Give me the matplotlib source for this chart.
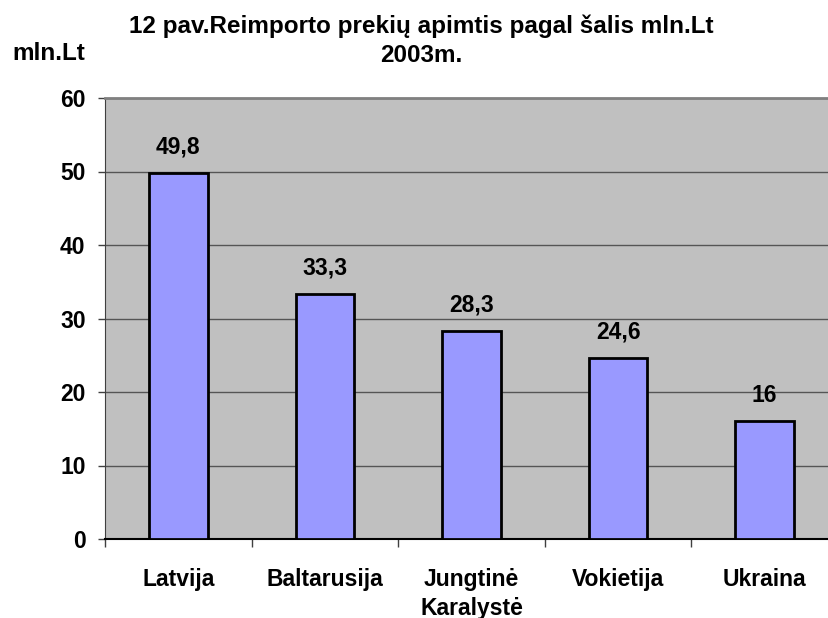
import matplotlib.pyplot as plt
import numpy as np
from matplotlib.ticker import FixedLocator

plt.rcParams["font.family"] = ["Liberation Sans", "DejaVu Sans"]
plt.rcParams["font.weight"] = "bold"

šalys = ["Latvija", "Baltarusija", "Jungtinė\nKaralystė", "Vokietija", "Ukraina"]
reikšmės = [49.8, 33.3, 28.3, 24.6, 16]
etiketės = ["49,8", "33,3", "28,3", "24,6", "16"]
y_žymės = [0, 10, 20, 30, 40, 50, 60]

W, H = 829, 618
FS = 16.5
fig = plt.figure(figsize=(W / 100, H / 100), dpi=100)
ax = fig.add_axes([105 / W, (H - 539) / H, 733 / W, 441 / H])
ax.set_facecolor("#C0C0C0")

x = np.arange(len(šalys))
ax.bar(x, reikšmės, width=0.4, color="#9999FF", edgecolor="black", linewidth=2, zorder=3)
for xi, v, t in zip(x, reikšmės, etiketės):
    ax.annotate(t, (xi, v), xytext=(0, 19), textcoords="offset points",
                ha="center", va="center", fontsize=FS, fontweight="bold", zorder=4)

ax.set_xlim(-0.5, len(šalys) - 0.5)
ax.set_ylim(0, 60)
ax.set_yticks(y_žymės)
ax.set_yticklabels([str(v) for v in y_žymės], fontsize=FS, fontweight="bold")
ax.yaxis.grid(True, color="#555555", lw=1, zorder=1)
ax.tick_params(axis="y", length=5, width=1, pad=9, color="#404040")

ax.set_xticks(x)
ax.set_xticklabels(šalys, fontsize=FS, fontweight="bold", va="top", linespacing=1.3)
ax.tick_params(axis="x", which="major", length=0, pad=21)
ax.xaxis.set_minor_locator(FixedLocator(np.arange(len(šalys) + 1) - 0.5))
ax.tick_params(axis="x", which="minor", length=6, width=1, color="#404040")

ax.spines["top"].set_color("#808080")
ax.spines["top"].set_linewidth(2)
ax.spines["left"].set_color("#404040")
ax.spines["bottom"].set_color("black")
ax.spines["bottom"].set_linewidth(1.5)

fig.text(421 / W, 1 - 26 / H, "12 pav.Reimporto prekių apimtis pagal šalis mln.Lt",
         ha="center", va="center", fontsize=17.5, fontweight="bold")
fig.text(421 / W, 1 - 55 / H, "2003m.", ha="center", va="center",
         fontsize=17.5, fontweight="bold")
fig.text(12 / W, 1 - 53 / H, "mln.Lt", ha="left", va="center",
         fontsize=17.5, fontweight="bold")

fig.savefig("out.png", dpi=100)
